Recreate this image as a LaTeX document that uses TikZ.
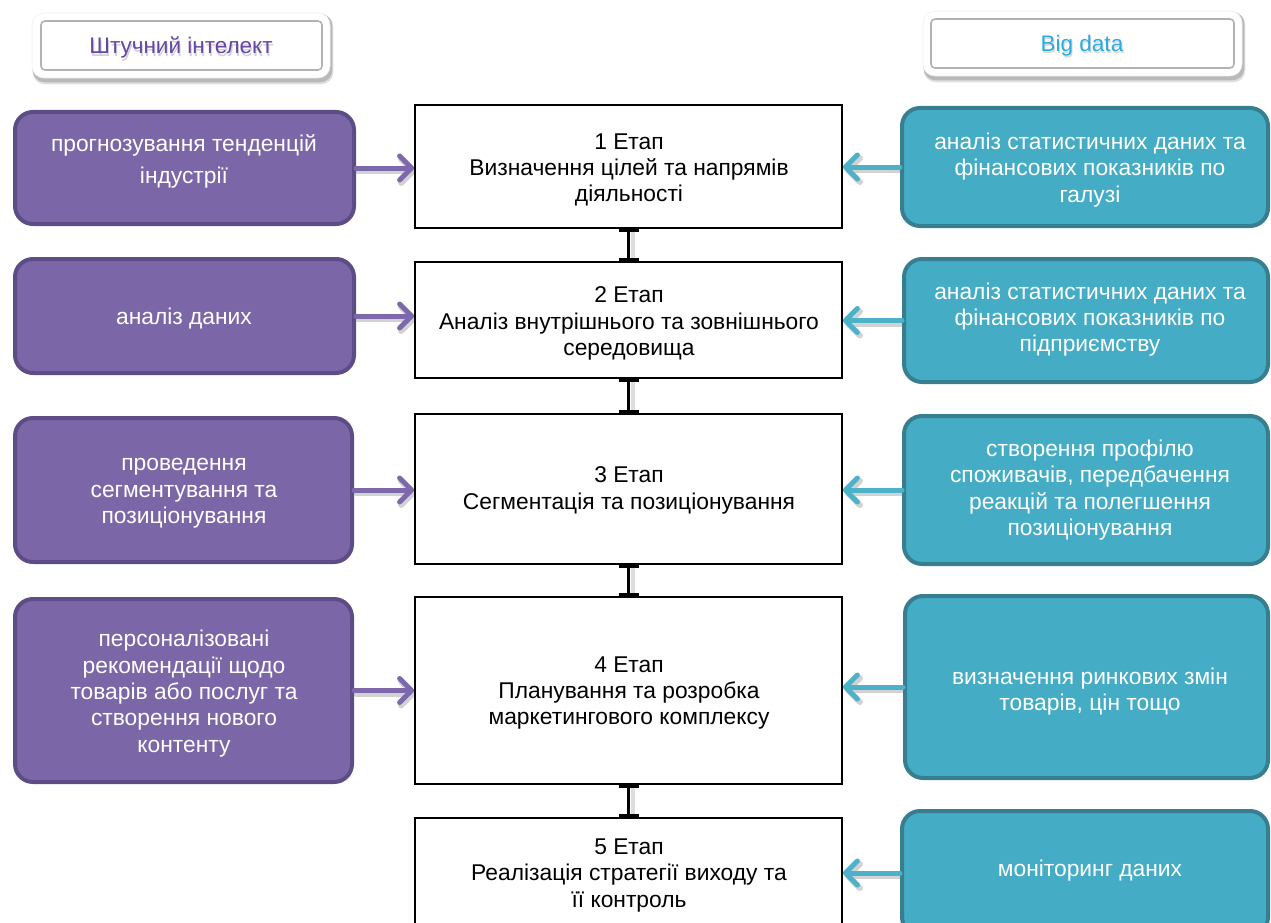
\documentclass[tikz,border=0pt]{standalone}
\usepackage{fontspec}
\setmainfont{Liberation Sans}
\usetikzlibrary{arrows.meta,calc}

\definecolor{aiFill}{HTML}{7B67A8}
\definecolor{aiEdge}{HTML}{5E4C86}
\definecolor{aiArrow}{HTML}{7C68AA}
\definecolor{bdFill}{HTML}{44ADC5}
\definecolor{bdEdge}{HTML}{377F90}
\definecolor{bdArrow}{HTML}{4DB2C9}
\definecolor{aiTitle}{HTML}{6746A6}
\definecolor{bdTitle}{HTML}{2AABE2}
\definecolor{shadeGray}{HTML}{9A9A9A}

\pgfdeclarelayer{shade}
\pgfsetlayers{shade,main}

% panel: style, name, x1, y1, x2, y2 (corners of the shape)
\newcommand\panel[6]{%
  \node[#1, minimum width={(#5)-(#3)}, minimum height={(#6)-(#4)}, inner sep=0pt]
    (#2) at ({((#3)+(#5))/2},{((#4)+(#6))/2}) {};}

\begin{document}
\begin{tikzpicture}[x=1pt,y=-1pt,
  body/.style={font=\fontsize{22.8}{26.3}\selectfont, align=center, inner sep=0pt},
  title/.style={font=\fontsize{22.5}{26}\selectfont, inner sep=0pt},
  aipanel/.style={draw=aiEdge, fill=aiFill, line width=4pt, rounded corners=18pt},
  bdpanel/.style={draw=bdEdge, fill=bdFill, line width=4pt, rounded corners=18pt},
  stage/.style={draw=black, fill=white, line width=1.8pt},
  hdrouter/.style={draw=gray!12, fill=white, line width=0.6pt, rounded corners=12pt},
  hdrinner/.style={draw=gray!60, fill=white, line width=1.6pt, rounded corners=4pt},
  aiarrow/.style={draw=aiArrow, line width=5pt, line cap=round,
    -{Straight Barb[length=12pt,width=24pt,round]}},
  bdarrow/.style={draw=bdArrow, line width=5pt, line cap=round,
    -{Straight Barb[length=12pt,width=24pt,round]}},
  arrowshade/.style={draw=shadeGray!45, line width=6pt, line cap=round,
    -{Straight Barb[length=12pt,width=24pt,round]}},
  link/.style={draw=black, line width=3pt, {Bar[width=20pt]}-{Bar[width=20pt]}},
  linkshade/.style={draw=shadeGray!35, line width=4pt},
]
\useasboundingbox (0,0) rectangle (1271,923);
\clip (0,0) rectangle (1271,923);

% ---- headers ----
\panel{hdrouter}{hdrAI}{32}{13}{330}{78}
\panel{hdrinner}{hdrAIin}{41}{21}{322}{70}
\panel{hdrouter}{hdrBD}{923}{11}{1242}{76}
\panel{hdrinner}{hdrBDin}{931}{19}{1234}{68}

\node[title, text=gray!35] at (182,50) {Штучний інтелект};
\node[title, text=aiTitle] (tAI) at (181,47.5) {Штучний інтелект};
\node[title, text=gray!30] at (1083,48) {Big data};
\node[title, text=bdTitle] (tBD) at (1082,45.5) {Big data};

% ---- artificial intelligence column ----
\panel{aipanel}{L1}{15}{112}{354}{224}
\panel{aipanel}{L2}{15}{259}{354}{373}
\panel{aipanel}{L3}{15}{418}{352}{562}
\panel{aipanel}{L4}{15}{599}{352}{782}

% ---- stages ----
\panel{stage}{C1}{415}{105}{842}{228}
\panel{stage}{C2}{415}{262}{842}{378}
\panel{stage}{C3}{415}{414}{842}{564}
\panel{stage}{C4}{415}{597}{842}{784}
\panel{stage}{C5}{415}{818}{842}{940}

% ---- big data column ----
\panel{bdpanel}{R1}{902}{108}{1268}{226}
\panel{bdpanel}{R2}{904}{259}{1268}{382}
\panel{bdpanel}{R3}{904}{416}{1268}{564}
\panel{bdpanel}{R4}{905}{596}{1268}{778}
\panel{bdpanel}{R5}{902}{811}{1268}{935}

% ---- texts ----
\node[body, text=white] at (184,161.5) {прогнозування тенденцій\\[6pt]індустрії};
\node[body, text=white] at (184,318.5) {аналіз даних};
\node[body, text=white] at (184,493.5) {проведення\\сегментування та\\позиціонування};
\node[body, text=white] at (184,693.5) {персоналізовані\\рекомендації щодо\\товарів або послуг та\\створення нового\\контенту};

\node[body] at (629,170) {1 Етап\\Визначення цілей та напрямів\\діяльності};
\node[body] at (629,323.5) {2 Етап\\Аналіз внутрішнього та зовнішнього\\середовища};
\node[body] at (629,490.5) {3 Етап\\Сегментація та позиціонування};
\node[body] at (629,693) {4 Етап\\Планування та розробка\\маркетингового комплексу};
\node[body] at (629,875.5) {5 Етап\\Реалізація стратегії виходу та\\її контроль};

\node[body, text=white] at (1090,170) {аналіз статистичних даних та\\фінансових показників по\\галузі};
\node[body, text=white] at (1090,319.5) {аналіз статистичних даних та\\фінансових показників по\\підприємству};
\node[body, text=white] at (1090,490) {створення профілю\\споживачів, передбачення\\реакцій та полегшення\\позиціонування};
\node[body, text=white] at (1090,691.5) {визначення ринкових змін\\товарів, цін тощо};
\node[body, text=white] at (1090,870.5) {моніторинг даних};

% ---- shadows behind headers, arrows and links ----
\begin{pgfonlayer}{shade}
  \foreach \h in {hdrAI,hdrBD}{
    \fill[gray!25, rounded corners=12pt]
      ($(\h.north west)+(1,2)$) rectangle ($(\h.south east)+(3,6)$);
    \fill[gray!55, rounded corners=12pt]
      ($(\h.north west)+(1,1)$) rectangle ($(\h.south east)+(2,4)$);
  }
  \foreach \a/\b in {L1/C1,L2/C2,L3/C3,L4/C4}{
    \draw[arrowshade, transform canvas={shift={(2pt,-3pt)}}]
      (\a.east) -- (\b.west |- \a.east);
  }
  \foreach \a/\b in {R1/C1,R2/C2,R3/C3,R4/C4,R5/C5}{
    \draw[arrowshade, transform canvas={shift={(2pt,-3pt)}}]
      (\a.west) -- (\b.east |- \a.west);
  }
  \foreach \a/\b in {C1/C2,C2/C3,C3/C4,C4/C5}{
    \draw[linkshade] ($(\a.south)+(4,0)$) -- ($(\b.north)+(4,0)$);
  }
\end{pgfonlayer}

% ---- arrows into the stages ----
\draw[aiarrow] (L1.east) -- (C1.west |- L1.east);
\draw[aiarrow] (L2.east) -- (C2.west |- L2.east);
\draw[aiarrow] (L3.east) -- (C3.west |- L3.east);
\draw[aiarrow] (L4.east) -- (C4.west |- L4.east);

\draw[bdarrow] (R1.west) -- (C1.east |- R1.west);
\draw[bdarrow] (R2.west) -- (C2.east |- R2.west);
\draw[bdarrow] (R3.west) -- (C3.east |- R3.west);
\draw[bdarrow] (R4.west) -- (C4.east |- R4.west);
\draw[bdarrow] (R5.west) -- (C5.east |- R5.west);

% ---- links between consecutive stages ----
\draw[link] (C1.south) -- (C2.north);
\draw[link] (C2.south) -- (C3.north);
\draw[link] (C3.south) -- (C4.north);
\draw[link] (C4.south) -- (C5.north);
\end{tikzpicture}
\end{document}
